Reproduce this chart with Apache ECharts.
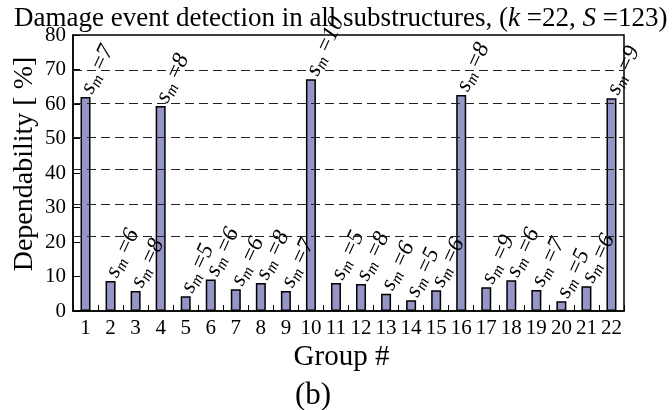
<!DOCTYPE html>
<html>
<head>
<meta charset="utf-8">
<script src="https://cdn.jsdelivr.net/npm/echarts@6/dist/echarts.min.js"></script>
<style>
html,body{margin:0;padding:0;background:#fff;}
#chart{width:672px;height:410px;}
</style>
</head>
<body>
<div id="chart"></div>
<script>
const groups = ['1','2','3','4','5','6','7','8','9','10','11','12','13','14','15','16','17','18','19','20','21','22'];
const dependability = [62.0, 8.7, 5.8, 59.4, 4.3, 9.1, 6.3, 8.1, 5.8, 67.2, 8.1, 7.8, 5.0, 3.1, 6.0, 62.6, 6.9, 8.9, 6.1, 2.8, 7.2, 61.7];
const smValues = [7, 6, 8, 8, 5, 6, 6, 8, 7, 10, 5, 8, 6, 5, 6, 8, 9, 6, 7, 5, 6, 9];
const gridLevels = [21.7, 31, 41, 50.5, 60.2, 69.8];
const yTicks = [0, 10, 20, 30, 40, 50, 60, 70, 80];

const FONT = "'Liberation Serif', 'Times New Roman', serif";
const chart = echarts.init(document.getElementById('chart'), null, {renderer: 'canvas'});

chart.setOption({
  animation: false,
  backgroundColor: '#fff',
  title: [{
    text: 'Damage event detection in all substructures, ({i|k} =22, {i|S} =123)',
    left: 9, top: 0,
    textStyle: {
      fontFamily: FONT, fontSize: 27, fontWeight: 'normal', color: '#000',
      rich: { i: { fontFamily: FONT, fontSize: 27, fontStyle: 'italic', color: '#000' } }
    }
  }, {
    text: '(b)',
    left: 290, top: 375,
    textStyle: { fontFamily: FONT, fontSize: 31, fontWeight: 'normal', color: '#000' }
  }],
  grid: { left: 73, right: 48, top: 35, bottom: 99, show: true, borderColor: '#000', borderWidth: 1.5, containLabel: false, outerBoundsMode: 'none' },
  xAxis: {
    type: 'category',
    data: groups,
    name: 'Group #',
    nameLocation: 'middle',
    nameGap: 32,
    nameMoveOverlap: false,
    nameTextStyle: { fontFamily: FONT, fontSize: 29, color: '#000', padding: [0, 14, 0, 0] },
    axisLine: { lineStyle: { color: '#000', width: 1.5 } },
    axisTick: { show: true, inside: true, length: 6, interval: 0, lineStyle: { color: '#000', width: 1 } },
    axisLabel: { interval: 0, fontFamily: FONT, fontSize: 21, color: '#000', margin: 7 }
  },
  yAxis: {
    type: 'value',
    min: 0, max: 80, interval: 10,
    name: 'Dependability [ %]',
    nameLocation: 'middle',
    nameGap: 34,
    nameMoveOverlap: false,
    nameTextStyle: { fontFamily: FONT, fontSize: 28, color: '#000', padding: [0, 0, 0, 18] },
    axisLine: { show: true, lineStyle: { color: '#000', width: 1.5 } },
    axisTick: { show: true, inside: true, length: 7, lineStyle: { color: '#000', width: 1 } },
    axisLabel: {
      fontFamily: FONT, fontSize: 21, color: '#000', margin: 7,
      formatter: function (v) { return yTicks.indexOf(v) >= 0 ? String(v) : ''; }
    },
    splitLine: { show: false }
  },
  series: [{
    type: 'bar',
    data: dependability,
    barWidth: 10,
    itemStyle: { color: '#9595c8', borderColor: '#000', borderWidth: 1.5 },
    label: {
      show: true,
      position: 'top',
      distance: 2,
      rotate: 65,
      align: 'left',
      verticalAlign: 'middle',
      offset: [3, 0],
      formatter: function (p) { return '{s|s}{m|m}{e| =}{v|' + smValues[p.dataIndex] + '}'; },
      rich: {
        s: { fontFamily: FONT, fontSize: 23, fontStyle: 'italic', color: '#000' },
        m: { fontFamily: FONT, fontSize: 16, fontStyle: 'italic', color: '#000', padding: [10, 0, 0, 0] },
        e: { fontFamily: FONT, fontSize: 23, color: '#000' },
        v: { fontFamily: FONT, fontSize: 23, fontStyle: 'italic', color: '#000' }
      }
    },
    markLine: {
      silent: true,
      symbol: 'none',
      label: { show: false },
      lineStyle: { type: [9, 5], color: '#222', width: 1 },
      data: gridLevels.map(function (v) { return { yAxis: v }; })
    },
    z: 3
  }]
});
</script>
</body>
</html>
